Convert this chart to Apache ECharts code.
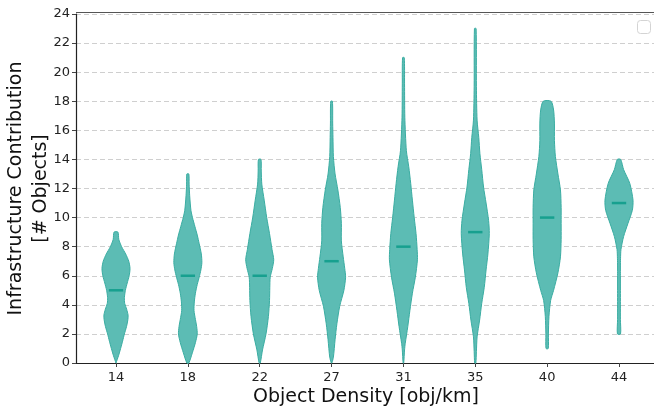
<!DOCTYPE html>
<html>
<head>
<meta charset="utf-8">
<script src="https://cdn.jsdelivr.net/npm/echarts@6/dist/echarts.min.js"></script>
<style>
  html, body { margin: 0; padding: 0; background: #fff; }
  #chart { width: 654px; height: 407px; }
</style>
</head>
<body>
<div id="chart"></div>
<script>
// object density categories (x axis)
const categories = ['14', '18', '22', '27', '31', '35', '40', '44']
// medians per violin
const medians = [5, 6, 6, 7, 8, 9, 10, 11]

// violin profiles: y levels and relative density (0..1) at each level
const levels14 = [0, 0.5, 1, 1.5, 2, 2.5, 3, 3.3, 3.7, 4.1, 4.5, 5, 5.5, 6, 6.5, 7, 7.5, 8, 8.5, 9]
const dens14 = [0, .18, .33, .47, .6, .75, .85, .86, .76, .62, .6, .67, .8, .94, 1, .91, .69, .4, .2, .14]

const levels18 = [0, 0.7, 1.4, 2, 2.5, 3, 3.6, 4.2, 4.8, 5.4, 5.9, 6.4, 6.9, 7.5, 8.2, 8.8, 9.4, 10, 10.5, 11.5, 12.3, 13]
const dens18 = [.07, .32, .54, .67, .63, .54, .44, .46, .54, .67, .81, .93, 1, .96, .81, .67, .5, .33, .22, .13, .09, .07]

const levels22 = [0, 0.9, 2, 3.2, 4.3, 5.2, 5.9, 6.5, 7.1, 7.8, 8.9, 10, 11.2, 12.3, 13.2, 14]
const dens22 = [.04, .2, .45, .62, .7, .72, .75, .9, 1, .88, .7, .5, .32, .15, .11, .09]

const levels27 = [0, 0.4, 1.6, 2.7, 3.9, 5, 5.9, 6.5, 7.3, 8.4, 9.6, 10.7, 11.9, 13, 14.2, 15.5, 16.5, 18]
const dens27 = [.02, .13, .25, .38, .58, .88, 1, .94, .83, .7, .7, .62, .45, .25, .13, .1, .08, .06]

const levels31 = [0, 0.9, 1.35, 2.5, 3.6, 4.8, 5.9, 7.1, 7.8, 8.9, 10, 11.2, 12.35, 13.5, 14.6, 16.9, 19.2, 21]
const dens31 = [.02, .08, .13, .31, .46, .64, .85, 1, .98, .9, .77, .64, .52, .38, .21, .1, .08, .06]

const levels35 = [0, 0.8, 1.8, 2.95, 4.1, 5.2, 6.4, 7.5, 8.9, 9.8, 11, 12.1, 13.3, 14.4, 15.5, 16.7, 19, 23]
const dens35 = [.04, .08, .13, .31, .46, .64, .77, .9, 1, .95, .77, .59, .46, .33, .25, .13, .08, .06]

const levels40 = [1, 2, 3.2, 4.3, 5, 6.2, 7.3, 8.5, 9.6, 10.7, 11.9, 13, 14.2, 15.3, 16.5, 17.4, 18]
const dens40 = [.08, .09, .13, .25, .46, .77, .95, 1, 1, 1, .95, .77, .59, .52, .52, .46, .28]

const levels44 = [2, 3, 4, 5, 6, 6.6, 7.2, 7.8, 8.7, 9.6, 10.5, 11.2, 12.35, 13.3, 14]
const dens44 = [.11, .1, .1, .1, .1, .1, .11, .14, .33, .64, .95, 1, .77, .33, .12]

const levels = [levels14, levels18, levels22, levels27, levels31, levels35, levels40, levels44]
const densities = [dens14, dens18, dens22, dens27, dens31, dens35, dens40, dens44]

const FONT = 'DejaVu Sans'
const HALF_W = 0.195 // max half width in x units
const MED_HALF = 0.1

const chart = echarts.init(document.getElementById('chart'))

function renderViolin(params, api) {
  const i = params.dataIndex
  const pos = api.value(0)
  const ys = levels[i]
  const ds = densities[i]
  const left = []
  const right = []
  for (let k = 0; k < ys.length; k++) {
    const c = api.coord([pos, ys[k]])
    const w = api.size([ds[k] * HALF_W, 0])[0]
    left.push([c[0] - w, c[1]])
    right.push([c[0] + w, c[1]])
  }
  const points = left.concat(right.reverse())
  const m = api.coord([pos, medians[i]])
  const mw = api.size([MED_HALF, 0])[0]
  return {
    type: 'group',
    children: [
      {
        type: 'polygon',
        shape: { points: points, smooth: 0.25 },
        style: { fill: '#5cbcb4', stroke: '#3aada2', lineWidth: 1 }
      },
      {
        type: 'line',
        shape: { x1: m[0] - mw, y1: m[1], x2: m[0] + mw, y2: m[1] },
        style: { stroke: '#17a08f', lineWidth: 2.5 }
      }
    ]
  }
}

const option = {
  animation: false,
  backgroundColor: '#fff',
  textStyle: { fontFamily: FONT },
  grid: { left: 76, right: -2, top: 14, bottom: 44, outerBoundsMode: 'none', containLabel: false },
  xAxis: {
    type: 'value',
    min: 0.4434,
    max: 8.515,
    name: 'Object Density [obj/km]',
    nameLocation: 'middle',
    nameGap: 25,
    nameMoveOverlap: false,
    nameTextStyle: { fontSize: 19, color: '#111', fontFamily: FONT },
    axisLine: { lineStyle: { color: '#222', width: 1.2 } },
    axisTick: {
      customValues: [1, 2, 3, 4, 5, 6, 7, 8],
      length: 4,
      lineStyle: { color: '#444' }
    },
    axisLabel: {
      customValues: [1, 2, 3, 4, 5, 6, 7, 8],
      formatter: v => categories[Math.round(v) - 1],
      fontSize: 13,
      color: '#222',
      margin: 8,
      fontFamily: FONT
    },
    splitLine: { show: false }
  },
  yAxis: {
    type: 'value',
    min: 0,
    max: 24,
    interval: 2,
    name: 'Infrastructure Contribution\n[# Objects]',
    nameLocation: 'middle',
    nameGap: 22,
    nameMoveOverlap: false,
    nameTextStyle: { fontSize: 19, color: '#111', lineHeight: 25, fontFamily: FONT },
    axisLine: { show: true, lineStyle: { color: '#222', width: 1.2 } },
    axisTick: { show: true, length: 4, lineStyle: { color: '#444' } },
    axisLabel: { fontSize: 13, color: '#222', margin: 6, fontFamily: FONT },
    splitLine: { show: true, lineStyle: { color: '#cfcfcf', type: [5, 3], width: 1 } }
  },
  graphic: [
    {
      type: 'line',
      shape: { x1: 76, y1: 12.5, x2: 654, y2: 12.5 },
      style: { stroke: '#555', lineWidth: 1.2 }
    },
    {
      type: 'rect',
      shape: { x: 637.5, y: 20.5, width: 13, height: 13, r: 3 },
      style: { fill: '#fff', stroke: '#d4d4d4', lineWidth: 1 }
    }
  ],
  series: [
    {
      type: 'custom',
      renderItem: renderViolin,
      data: categories.map((c, i) => [i + 1]),
      encode: { x: 0 },
      z: 3
    }
  ]
}

chart.setOption(option)
</script>
</body>
</html>
